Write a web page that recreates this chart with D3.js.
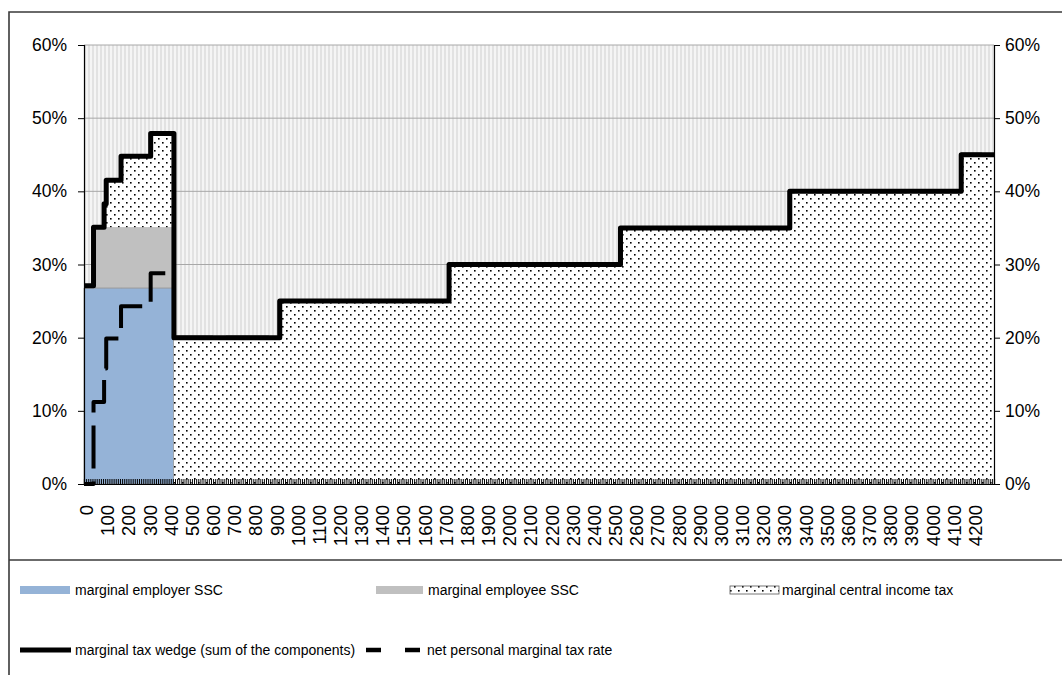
<!DOCTYPE html>
<html><head><meta charset="utf-8">
<script src="https://cdn.jsdelivr.net/npm/d3@7"></script>
<style>
body{margin:0;background:#fff;}
svg{display:block;font-family:"Liberation Sans",Arial,sans-serif;}
</style></head><body>
<svg id="c" width="1062" height="675"></svg>
<script>
// ---- data (gross earnings thresholds, rates in %) ----
const segmentStart = [0, 45, 95, 105, 175, 315, 425, 925, 1725, 2535, 3335, 4145];
const axisEnd = 4300;
const employerSSC      = [26.8, 26.8, 26.8, 26.8, 26.8, 26.8, 0, 0, 0, 0, 0, 0];
const employeeSSC      = [0, 8.3, 8.3, 8.3, 8.3, 8.3, 0, 0, 0, 0, 0, 0];
const centralIncomeTax = [0, 0, 3.2, 6.4, 9.7, 12.8, 20, 25, 30, 35, 40, 45];
const taxWedge         = [27.1, 35.1, 38.3, 41.5, 44.8, 47.9, 20, 25, 30, 35, 40, 45];
const netPersonalRate  = [0, 11.2, 15.8, 19.9, 24.3, 28.8, 20, 25, 30, 35, 40, 45];
const yTicks = [0, 10, 20, 30, 40, 50, 60];
const categoryStep = 10;
const xTickLabels = d3.range(0, 4201, 100);
const legendLabels = ["marginal employer SSC", "marginal employee SSC", "marginal central income tax",
  "marginal tax wedge (sum of the components)", "net personal marginal tax rate"];

const svg = d3.select("#c");
const L = 84, R = 994, T = 45, B = 484;
const x = d3.scaleLinear().domain([0, axisEnd]).range([L, R]);
const y = d3.scaleLinear().domain([0, 60]).range([B, T]);

// patterns
const defs = svg.append("defs");
const bg = defs.append("pattern").attr("id", "bgStripe").attr("patternUnits", "userSpaceOnUse")
  .attr("width", 4).attr("height", 4).attr("x", L);
bg.append("rect").attr("width", 4).attr("height", 4).attr("fill", "#f5f5f5");
bg.append("rect").attr("width", 2).attr("height", 4).attr("fill", "#e2e2e2");
const dots = defs.append("pattern").attr("id", "dots").attr("patternUnits", "userSpaceOnUse")
  .attr("width", 8).attr("height", 8).attr("x", L).attr("y", 1);
dots.append("rect").attr("width", 8).attr("height", 8).attr("fill", "#fff");
dots.append("rect").attr("x", 2).attr("y", 1).attr("width", 1.6).attr("height", 1.6).attr("fill", "#000");
dots.append("rect").attr("x", 6).attr("y", 5).attr("width", 1.6).attr("height", 1.6).attr("fill", "#000");

// outer frame + separator
svg.append("path").attr("d", `M9,675V12H1062`).attr("fill", "none").attr("stroke", "#3a3a3a").attr("stroke-width", 1.6);
svg.append("line").attr("x1", 9).attr("x2", 1062).attr("y1", 560).attr("y2", 560).attr("stroke", "#3a3a3a").attr("stroke-width", 1.6);

// plot background
svg.append("rect").attr("x", L).attr("y", T).attr("width", R - L).attr("height", B - T).attr("fill", "url(#bgStripe)");
// gridlines
svg.append("g").selectAll("line").data(yTicks.filter(d => d > 0)).join("line")
  .attr("x1", L).attr("x2", R).attr("y1", d => y(d)).attr("y2", d => y(d))
  .attr("stroke", "#a8a8a8").attr("stroke-width", 1);

// stacked areas
const rows = segmentStart.map((s, i) => ({x: s, emp: employerSSC[i], ee: employeeSSC[i], tax: centralIncomeTax[i]}));
rows.push({...rows[rows.length - 1], x: axisEnd});
const stack = d3.stack().keys(["emp", "ee", "tax"])(rows);
const area = d3.area().curve(d3.curveStepAfter).x(d => x(d.data.x)).y0(d => y(d[0])).y1(d => y(d[1]));
const fills = {emp: "#95b3d7", ee: "#c0c0c0", tax: "url(#dots)"};
const strokes = {emp: "#9a9a9a", ee: "#9a9a9a", tax: "none"};
svg.append("g").selectAll("path").data(stack).join("path")
  .attr("d", area).attr("fill", d => fills[d.key]).attr("stroke", d => strokes[d.key]).attr("stroke-width", 0.8);

// lines
const lineGen = d3.line().curve(d3.curveStepAfter).x(d => x(d.x)).y(d => y(d.v));
const mk = arr => { const a = segmentStart.map((s, i) => ({x: s, v: arr[i]})); a.push({x: axisEnd, v: arr[arr.length - 1]}); return a; };
svg.append("path").attr("d", lineGen(mk(netPersonalRate))).attr("fill", "none").attr("stroke", "#000")
  .attr("stroke-width", 4).attr("stroke-dasharray", "43,13").attr("stroke-dashoffset", 31).attr("stroke-linejoin", "round");
svg.append("path").attr("d", lineGen(mk(taxWedge))).attr("fill", "none").attr("stroke", "#000")
  .attr("stroke-width", 5).attr("stroke-linejoin", "round");

// axes
const fmt = d => d + "%";
const yl = svg.append("g").attr("transform", `translate(${L},0)`)
  .call(d3.axisLeft(y).tickValues(yTicks).tickFormat(fmt).tickSize(6).tickPadding(11));
const yr = svg.append("g").attr("transform", `translate(${R},0)`)
  .call(d3.axisRight(y).tickValues(yTicks).tickFormat(fmt).tickSize(6).tickPadding(5));
[yl, yr].forEach(g => {
  g.select(".domain").attr("stroke", "#000").attr("stroke-width", 1.2);
  g.selectAll(".tick line").attr("stroke", "#000");
  g.selectAll("text").attr("font-size", 17.5).attr("font-family", "Liberation Sans, Arial, sans-serif").attr("fill", "#000");
});
// category axis
const xa = svg.append("g").attr("transform", `translate(0,${B})`)
  .call(d3.axisBottom(x).tickValues(d3.range(0, axisEnd + 1, categoryStep)).tickSize(-5).tickFormat(""));
xa.select(".domain").attr("stroke", "#000").attr("stroke-width", 1.2);
xa.selectAll(".tick line").attr("stroke", "#000").attr("stroke-width", 1);
svg.append("g").selectAll("text").data(xTickLabels).join("text")
  .attr("transform", d => `translate(${x(d + categoryStep / 2) + 1.5},505) rotate(-90)`)
  .attr("text-anchor", "end").attr("dy", "0.35em").attr("font-size", 18.5).attr("fill", "#000")
  .text(d => d);

// legend
const lg = svg.append("g").attr("font-size", 14).attr("fill", "#000");
const sw = [
  {x: 20, y: 590, type: "rect", fill: "#95b3d7", w: 50, tx: 75},
  {x: 376, y: 590, type: "rect", fill: "#c0c0c0", w: 47, tx: 428},
  {x: 730, y: 590, type: "rect", fill: "url(#dots)", w: 49, tx: 782, stroke: "#555"},
  {x: 20, y: 650, type: "line", w: 51, tx: 75},
  {x: 366, y: 650, type: "dash", w: 54, tx: 427}
];
sw.forEach((s, i) => {
  if (s.type === "rect") {
    lg.append("rect").attr("x", s.x).attr("y", s.y - 4).attr("width", s.w).attr("height", 8)
      .attr("fill", s.fill).attr("stroke", s.stroke || "none").attr("stroke-width", 0.8);
  } else {
    lg.append("line").attr("x1", s.x).attr("x2", s.x + s.w).attr("y1", s.y).attr("y2", s.y)
      .attr("stroke", "#000").attr("stroke-width", s.type === "line" ? 5 : 4.5)
      .attr("stroke-dasharray", s.type === "dash" ? "15,24" : null);
  }
  lg.append("text").attr("x", s.tx).attr("y", s.y).attr("dy", "0.35em").text(legendLabels[i]);
});
</script></body></html>
